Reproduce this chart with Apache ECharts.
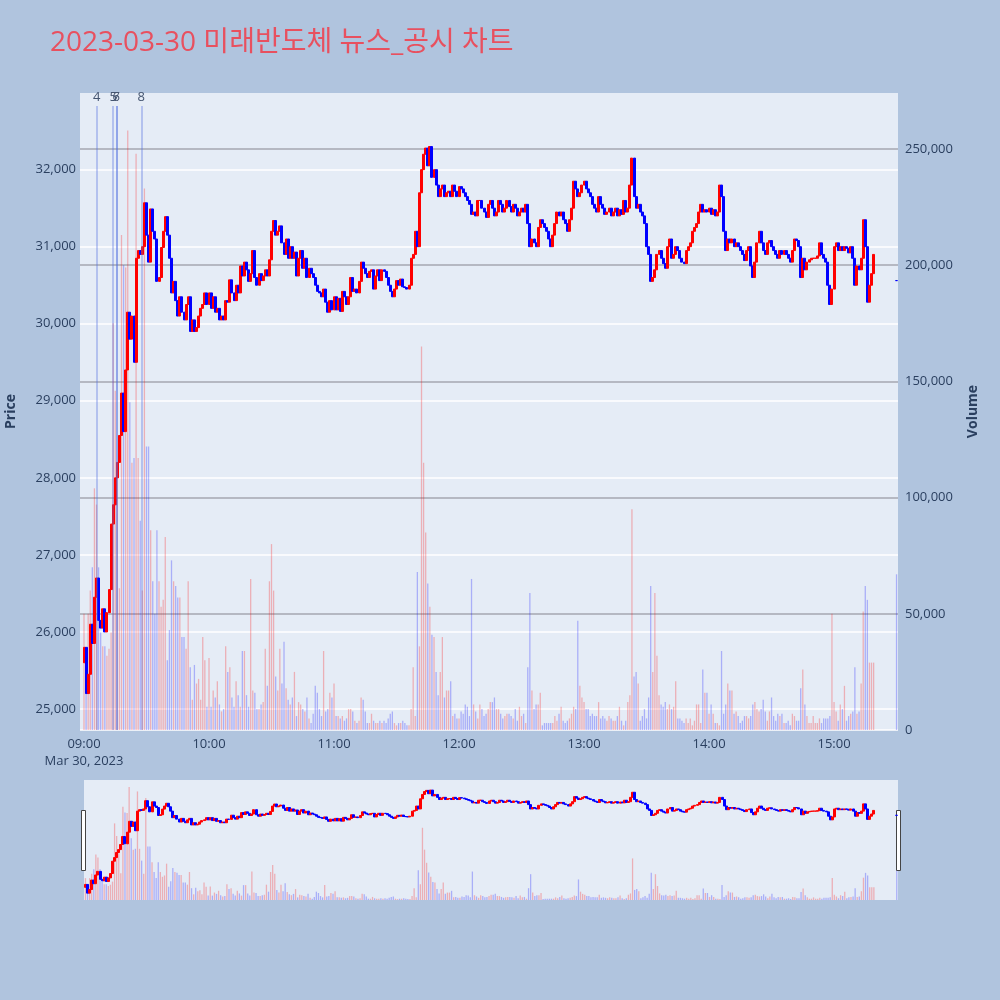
<!DOCTYPE html>
<html>
<head>
<meta charset="utf-8">
<script src="https://cdn.jsdelivr.net/npm/echarts@6/dist/echarts.min.js"></script>
<style>
  html, body { margin: 0; padding: 0; background: #b0c4de; }
  #chart { width: 1000px; height: 1000px; }
</style>
</head>
<body>
<div id="chart"></div>
<script>
// ---- data -------------------------------------------------------------
const chartTitle = '2023-03-30 미래반도체 뉴스_공시 차트';
const sessionDate = 'Mar 30, 2023';
const sessionStart = '09:00';
const timeTicks = ['09:00', '10:00', '11:00', '12:00', '13:00', '14:00', '15:00'];

// open of the first one-minute bar; every later bar opens at the previous close
const firstOpen = 25600;

// one-minute closes from 09:00 to 15:19
const closes = [
  25800, 25200, 25450, 26100, 25850, 26450, 26700, 26150, 26050, 26300,
  26000, 26250, 26550, 27400, 27650, 28000, 28200, 28550, 29100, 28600,
  29400, 30150, 29800, 30100, 29500, 30850, 30950, 30900, 31000, 31570,
  31150, 30800, 31490, 31200, 31100, 30550, 30600, 30990, 31200, 31390,
  31150, 30850, 30400, 30550, 30300, 30100, 30350, 30150, 30050, 30250,
  30350, 29900, 30050, 29900, 29950, 30100, 30200, 30250, 30400, 30250,
  30400, 30200, 30350, 30150, 30200, 30050, 30100, 30050, 30300, 30280,
  30570, 30400, 30300, 30500, 30400, 30750, 30620, 30800, 30700, 30550,
  30650, 30950, 30600, 30500, 30650, 30560, 30620, 30700, 30620, 30830,
  31200, 31340, 31150, 31200, 31270, 31050, 30900, 31100, 30850, 31000,
  30850, 30930, 30620, 30850, 30950, 30720, 30850, 30600, 30720, 30650,
  30600, 30500, 30420, 30400, 30350, 30450, 30280, 30150, 30300, 30180,
  30350, 30180, 30330, 30160, 30420, 30350, 30250, 30350, 30600, 30420,
  30450, 30400, 30550, 30800, 30720, 30650, 30600, 30680, 30700, 30450,
  30620, 30700, 30560, 30700, 30680, 30600, 30500, 30420, 30350, 30450,
  30560, 30500, 30580, 30480, 30470, 30450, 30500, 30850, 30900, 31200,
  31000, 31700, 32000, 32200, 32280, 32050, 32300, 31900, 32000, 31800,
  31650, 31750, 31800, 31650, 31700, 31720, 31650, 31800, 31720, 31650,
  31780, 31750, 31700, 31650, 31600, 31550, 31420, 31450, 31400, 31600,
  31600, 31500, 31450, 31380, 31550, 31600, 31500, 31400, 31450, 31600,
  31550, 31450, 31500, 31600, 31520, 31450, 31550, 31500, 31400, 31450,
  31500, 31450, 31550, 31300, 31000, 31100, 31050, 31000, 31250, 31350,
  31300, 31250, 31200, 31100, 31000, 31150, 31300, 31450, 31400, 31450,
  31350, 31300, 31200, 31350, 31500, 31850, 31750, 31650, 31700, 31800,
  31850, 31750, 31700, 31650, 31550, 31500, 31450, 31650, 31550, 31500,
  31420, 31450, 31500, 31400, 31450, 31500, 31400, 31480, 31420, 31600,
  31450, 31500, 31800, 32150, 31650, 31500, 31550, 31450, 31400, 31300,
  31000, 30900, 30550, 30600, 30700, 30900, 30950, 30850, 30780, 30720,
  31000, 31100, 30850, 30900, 31000, 30950, 30850, 30800, 30780, 30950,
  31000, 31050, 31200, 31250, 31300, 31450, 31550, 31450, 31480, 31450,
  31500, 31420, 31480, 31400, 31450, 31800, 31650, 31200, 30950, 31100,
  31050, 31100, 31000, 31050, 31000, 30950, 30900, 30820, 30950, 31000,
  30750, 30600, 30800, 31050, 31200, 31050, 30950, 30900, 31050, 31080,
  31000, 30950, 30900, 30850, 30950, 30900, 30950, 30900, 30850, 30800,
  30950, 31100, 31080, 31000, 30600, 30850, 30700, 30800, 30830, 30850,
  30850, 30850, 30880, 31050, 30900, 30850, 30800, 30500, 30250, 30450,
  31000, 31050, 30950, 31000, 30950, 31000, 30980, 30920, 31000, 30850,
  30500, 30750, 30700, 30850, 31350, 31000, 30280, 30500, 30650, 30900
];

// one-minute traded volume, in thousands of shares
const volumeThousands = [
  50, 17, 50, 60, 70, 104, 97, 70, 42, 36,
  36, 32, 35, 42, 175, 146, 115, 61, 213, 200,
  199, 258, 141, 115, 117, 248, 117, 90, 60, 233,
  122, 122, 86, 64, 50, 86, 64, 53, 56, 83,
  30, 43, 73, 64, 62, 57, 57, 40, 40, 35,
  64, 27, 13, 28, 20, 22, 13, 40, 30, 10,
  31, 10, 17, 14, 21, 11, 8, 9, 36, 25,
  27, 14, 10, 21, 15, 10, 34, 34, 15, 10,
  65, 17, 16, 9, 9, 11, 12, 35, 19, 64,
  80, 60, 23, 17, 35, 20, 38, 18, 13, 11,
  14, 25, 6, 12, 11, 9, 8, 14, 5, 3,
  7, 19, 16, 9, 6, 34, 8, 9, 16, 14,
  20, 6, 6, 5, 6, 4, 5, 9, 9, 8,
  4, 3, 4, 14, 13, 8, 3, 3, 7, 4,
  3, 3, 4, 3, 4, 3, 5, 7, 8, 3,
  2, 3, 3, 4, 3, 2, 2, 9, 27, 6,
  68, 36, 165, 115, 85, 63, 53, 41, 40, 25,
  15, 25, 40, 14, 17, 17, 21, 6, 7, 5,
  5, 8, 7, 11, 10, 6, 65, 11, 8, 5,
  11, 9, 6, 7, 9, 12, 12, 14, 9, 9,
  7, 5, 6, 7, 7, 6, 5, 9, 4, 10,
  6, 7, 3, 27, 59, 17, 9, 11, 11, 16,
  2, 3, 3, 3, 3, 3, 6, 4, 7, 10,
  4, 3, 4, 5, 7, 10, 9, 47, 19, 14,
  12, 9, 9, 6, 7, 6, 6, 12, 5, 6,
  5, 4, 6, 5, 4, 4, 6, 10, 4, 2,
  4, 12, 15, 95, 23, 25, 20, 4, 6, 9,
  5, 14, 62, 25, 59, 32, 15, 11, 10, 12,
  9, 11, 9, 10, 21, 5, 5, 4, 3, 5,
  3, 5, 2, 4, 11, 11, 3, 26, 16, 16,
  7, 11, 7, 3, 3, 2, 34, 7, 11, 20,
  17, 17, 7, 8, 6, 3, 4, 6, 6, 5,
  6, 11, 12, 9, 8, 9, 13, 8, 4, 8,
  14, 6, 4, 7, 6, 7, 3, 3, 4, 2,
  7, 6, 4, 4, 18, 26, 11, 6, 3, 3,
  6, 3, 3, 5, 3, 5, 5, 5, 6, 50,
  12, 8, 4, 11, 9, 19, 4, 6, 7, 8,
  27, 7, 8, 20, 51, 62, 56, 29, 29, 29
];

// single-price closing auction
const closingTime = '15:30';
const closingPrice = 30560;
const closingVolumeThousands = 67;

// news / disclosure markers
const newsTimes = ['09:06:05', '09:14:00', '09:15:30', '09:15:30', '09:27:30'];
const newsLabels = ['4', '5', '6', '7', '8'];

// ---- helpers ------------------------------------------------------------
function toMinutes(hms) {
  const p = hms.split(':').map(Number);
  const s = sessionStart.split(':').map(Number);
  return (p[0] * 60 + p[1] + (p[2] || 0) / 60) - (s[0] * 60 + s[1]);
}
function minutesToLabel(m) {
  const s = sessionStart.split(':').map(Number);
  const t = s[0] * 60 + s[1] + Math.round(m);
  return String(Math.floor(t / 60)).padStart(2, '0') + ':' + String(t % 60).padStart(2, '0');
}

const UP = '#ff0000', DOWN = '#0000ff';
const UP_FADE = 'rgba(255,0,0,0.26)', DOWN_FADE = 'rgba(0,0,255,0.26)';
const INK = '#2a3f5f';
const FONT = "'Open Sans', 'Noto Sans CJK KR', sans-serif";

const candles = [];
const volumeBars = [];
closes.forEach((c, i) => {
  const o = i === 0 ? firstOpen : closes[i - 1];
  candles.push([i, o, c, Math.min(o, c), Math.max(o, c)]);
  volumeBars.push({ value: [i, volumeThousands[i] * 1000], itemStyle: { color: c >= o ? UP_FADE : DOWN_FADE } });
});
const closeX = toMinutes(closingTime);
const lastClose = closes[closes.length - 1];
candles.push([closeX, closingPrice, closingPrice, closingPrice, closingPrice]);
volumeBars.push({ value: [closeX, closingVolumeThousands * 1000], itemStyle: { color: closingPrice >= lastClose ? UP_FADE : DOWN_FADE } });

const tickMinutes = timeTicks.map(toMinutes);

const priceMin = 24727, priceMax = 32995;
const volMax = 274100;
const markerTopVolume = 268500;

const candleStyle = { color: UP, color0: DOWN, borderColor: UP, borderColor0: DOWN, borderWidth: 1 };

const chart = echarts.init(document.getElementById('chart'), null, { renderer: 'canvas' });
chart.setOption({
  backgroundColor: '#b0c4de',
  animation: false,
  title: {
    text: chartTitle, left: 45, top: 24,
    textStyle: { color: '#e8505f', fontSize: 28, fontWeight: 'normal', fontFamily: FONT }
  },
  grid: [
    { left: 80, right: 102, top: 93, bottom: 270, show: true, backgroundColor: '#e5ecf6', borderWidth: 0, containLabel: false, outerBoundsMode: 'none' },
    { left: 84, right: 102, top: 780, bottom: 100, show: true, backgroundColor: '#e5ecf6', borderWidth: 0, containLabel: false, outerBoundsMode: 'none' }
  ],
  xAxis: [
    {
      type: 'value', gridIndex: 0, min: -1.92, max: 390.7,
      axisLine: { show: false }, axisTick: { show: false }, splitLine: { show: false },
      axisLabel: {
        customValues: tickMinutes,
        color: INK, fontSize: 13, fontFamily: FONT, margin: 6, lineHeight: 17,
        formatter: v => Math.abs(v) < 1e-6 ? minutesToLabel(v) + '\n' + sessionDate : minutesToLabel(v)
      }
    },
    { type: 'value', gridIndex: 1, min: -0.7, max: 390.6, show: false, splitLine: { show: false } }
  ],
  yAxis: [
    {
      type: 'value', gridIndex: 0, position: 'left', min: priceMin, max: priceMax, splitNumber: 8,
      name: 'Price', nameLocation: 'middle', nameGap: 62,
      nameTextStyle: { color: INK, fontSize: 14, fontWeight: 'bold', fontFamily: FONT },
      axisLine: { show: false }, axisTick: { show: false },
      axisLabel: {
        color: INK, fontSize: 13, fontFamily: FONT, margin: 4,
        formatter: v => (v % 1000 === 0 ? v.toLocaleString('en-US') : '')
      },
      splitLine: { show: true, showMaxLine: false, lineStyle: { color: '#ffffff', width: 1.5 } }
    },
    {
      type: 'value', gridIndex: 0, position: 'right', min: 0, max: volMax, splitNumber: 5,
      name: 'Volume', nameLocation: 'middle', nameGap: 68,
      nameTextStyle: { color: INK, fontSize: 14, fontWeight: 'bold', fontFamily: FONT },
      axisLine: { show: false }, axisTick: { show: false },
      axisLabel: {
        color: INK, fontSize: 13, fontFamily: FONT, margin: 7,
        formatter: v => (v % 50000 === 0 ? v.toLocaleString('en-US') : '')
      },
      splitLine: { show: true, showMaxLine: false, showMinLine: false, lineStyle: { color: 'rgba(120,120,130,0.6)', width: 1.5 } }
    },
    { type: 'value', gridIndex: 1, min: priceMin, max: priceMax, show: false, splitLine: { show: false } },
    { type: 'value', gridIndex: 1, min: 0, max: volMax, show: false, splitLine: { show: false } }
  ],
  series: [
    {
      name: 'Volume', type: 'bar', xAxisIndex: 0, yAxisIndex: 1, data: volumeBars, barWidth: 1.3,
      markLine: {
        silent: true, symbol: 'none', animation: false,
        lineStyle: { color: 'rgba(80,110,225,0.45)', width: 1.5, type: 'solid' },
        label: { show: true, position: 'end', distance: 2, color: '#44546f', fontSize: 13, fontFamily: FONT, formatter: p => p.name },
        data: newsTimes.map((t, i) => [
          { name: newsLabels[i], coord: [toMinutes(t), 0] },
          { coord: [toMinutes(t), markerTopVolume] }
        ])
      }
    },
    { name: 'Price', type: 'candlestick', xAxisIndex: 0, yAxisIndex: 0, data: candles, barWidth: 2.5, itemStyle: candleStyle },
    { name: 'VolumeOverview', type: 'bar', xAxisIndex: 1, yAxisIndex: 3, data: volumeBars, barWidth: 1.3 },
    { name: 'PriceOverview', type: 'candlestick', xAxisIndex: 1, yAxisIndex: 2, data: candles, barWidth: 2.5, itemStyle: candleStyle }
  ],
  graphic: [
    { type: 'rect', left: 81, top: 810, shape: { width: 4, height: 60 }, style: { fill: '#ffffff', stroke: '#444444', lineWidth: 1 } },
    { type: 'rect', left: 896, top: 810, shape: { width: 4, height: 60 }, style: { fill: '#ffffff', stroke: '#444444', lineWidth: 1 } }
  ]
});
</script>
</body>
</html>
